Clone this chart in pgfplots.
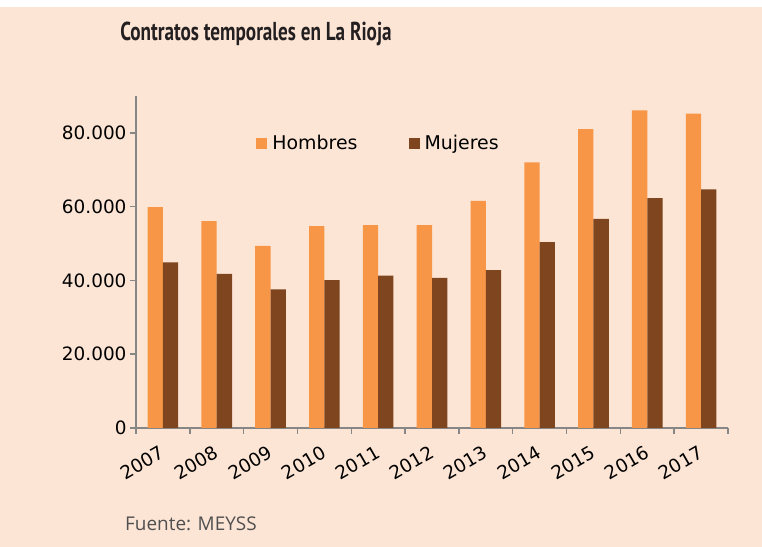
\documentclass[border=0pt]{standalone}
\usepackage{pgfplots}
\pgfplotsset{compat=1.18}
\usepackage{fontspec}
\setmainfont{DejaVu Sans}
\newfontfamily\titlefont[FakeStretch=0.74]{PT Sans}
\newfontfamily\srcfont{Open Sans}
\definecolor{bg}{RGB}{253,229,213}
\definecolor{horange}{RGB}{247,150,70}
\definecolor{mbrown}{RGB}{127,69,31}
\definecolor{axgray}{RGB}{134,134,134}
\definecolor{titlecol}{RGB}{35,31,32}
\definecolor{srccol}{RGB}{80,80,80}
\begin{document}
\begin{tikzpicture}
\fill[bg] (0bp,0bp) rectangle (762bp,547bp);
\fill[white] (0bp,540bp) rectangle (762bp,547bp);
\node[font=\titlefont\bfseries\fontsize{26}{30}\selectfont, text=titlecol, anchor=base, inner sep=0pt] at (256bp,506bp) {Contratos temporales en La Rioja};
\node[font=\srcfont\fontsize{19}{22}\selectfont, text=srccol, anchor=base west, inner sep=0pt] at (125bp,17bp) {Fuente: MEYSS};
\begin{axis}[
  at={(136bp,119bp)}, anchor=south west,
  scale only axis, width=592bp, height=332bp,
  ybar=0pt, bar width=15.3bp,
  xmin=-0.5, xmax=10.5, ymin=0, ymax=90000,
  axis lines=left,
  axis line style={-, draw=axgray, line width=1.5bp},
  xtick={-0.5,0.5,1.5,2.5,3.5,4.5,5.5,6.5,7.5,8.5,9.5,10.5},
  x tick label as interval,
  xticklabels={2007,2008,2009,2010,2011,2012,2013,2014,2015,2016,2017},
  ytick={0,20000,40000,60000,80000},
  yticklabels={0,20.000,40.000,60.000,80.000},
  scaled y ticks=false,
  tick align=outside,
  major tick length=6bp,
  tick style={draw=axgray, line width=1.5bp},
  ticklabel style={font=\fontsize{18.5}{20}\selectfont, text=black},
  x tick label style={rotate=30, anchor=north east, xshift=-5bp, yshift=-4bp},
  legend style={at={(0.198,0.857)}, anchor=west, draw=none, fill=none,
    font=\fontsize{19}{21}\selectfont, legend columns=2,
    /tikz/every odd column/.append style={column sep=3bp},
    /tikz/every even column/.append style={column sep=49bp}},
  legend cell align=left,
]
\addplot[fill=horange, draw=none,
  legend image code/.code={\fill[horange] (0bp,-5.5bp) rectangle (11bp,5.5bp);}]
  coordinates {(0,59900) (1,56100) (2,49400) (3,54700) (4,55000) (5,55000) (6,61600) (7,72000) (8,81000) (9,86100) (10,85200)};
\addlegendentry{Hombres}
\addplot[fill=mbrown, draw=none,
  legend image code/.code={\fill[mbrown] (0bp,-5.5bp) rectangle (11bp,5.5bp);}]
  coordinates {(0,44900) (1,41800) (2,37600) (3,40100) (4,41300) (5,40700) (6,42800) (7,50400) (8,56700) (9,62300) (10,64700)};
\addlegendentry{Mujeres}
\end{axis}
\end{tikzpicture}
\end{document}
